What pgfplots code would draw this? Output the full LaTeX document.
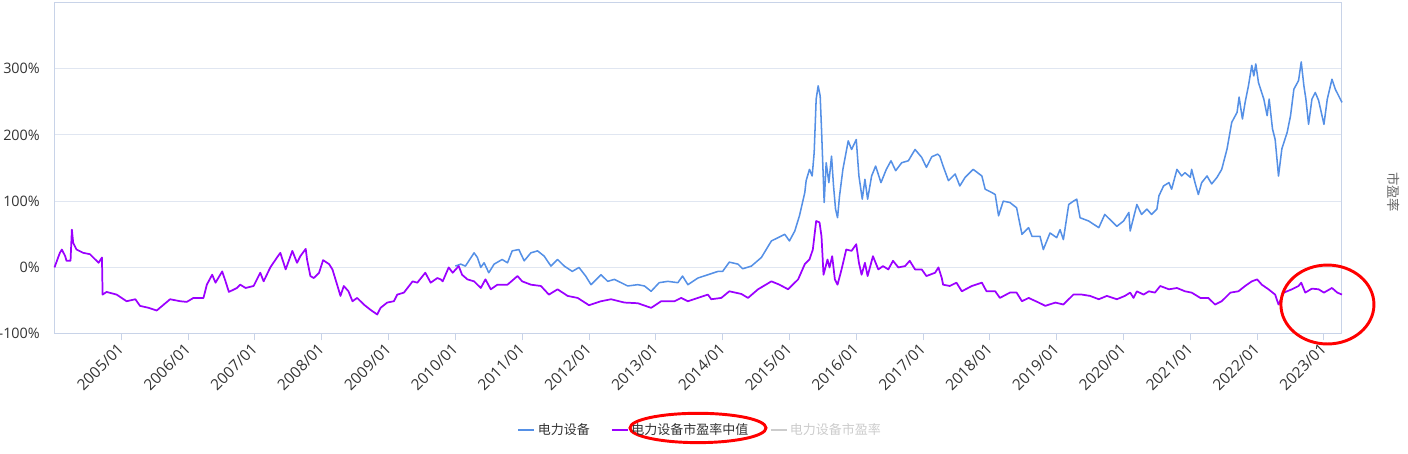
\documentclass[border=0pt]{standalone}
\usepackage{pgfplots}
\pgfplotsset{compat=1.18}
\usepackage{fontspec}
\setmainfont{Noto Sans CJK SC}
\newfontfamily\tickfont{Open Sans}
\definecolor{bluel}{HTML}{5590E6}
\definecolor{purp}{HTML}{9B00FF}
\definecolor{gridc}{HTML}{E0E6F1}
\definecolor{axc}{HTML}{C8D3E8}
\definecolor{lgray}{HTML}{CCCCCC}
\definecolor{txt}{HTML}{333333}
\begin{document}
\begin{tikzpicture}
\begin{axis}[
  scale only axis, width=965.6pt, height=248.5pt,
  xmin=2004, xmax=2023.27, ymin=-100, ymax=400,
  axis line style={draw=axc, line width=0.75pt},
  xtick={2005,2006,...,2023},
  xticklabels={2005/01,2006/01,2007/01,2008/01,2009/01,2010/01,2011/01,2012/01,2013/01,2014/01,2015/01,2016/01,2017/01,2018/01,2019/01,2020/01,2021/01,2022/01,2023/01},
  ytick={-100,0,100,200,300},
  yticklabels={-100\%,0\%,100\%,200\%,300\%},
  ymajorgrids, major grid style={draw=gridc, line width=0.75pt},
  xtick pos=bottom, ytick pos=left, tick align=outside,
  xtick style={draw=axc, line width=0.75pt}, major tick length=5pt,
  ytick style={draw=none},
  yticklabel style={font=\tickfont\fontsize{10.8}{13}\selectfont, text=txt, xshift=-2.5pt},
  xticklabel style={font=\tickfont\fontsize{11.5}{13}\selectfont, text=txt, rotate=45, anchor=east, yshift=-3pt},
  clip=false,
  legend columns=-1,
  legend style={draw=none, fill=none, at={(0.5013,-0.2906)}, anchor=center,
    font=\fontsize{9.75}{12}\selectfont, text=txt,
    /tikz/every even column/.append style={column sep=14pt},
    nodes={inner sep=1.5pt}},
  legend image code/.code={\draw[#1, line width=2.2pt] (0pt,0pt) -- (12pt,0pt);},
]
\addplot[bluel, line width=1.15pt, line join=round] coordinates {
(2010.00,2)(2010.08,5)(2010.15,2)(2010.28,22)(2010.33,15)(2010.38,0)(2010.43,7)(2010.50,-8)(2010.58,5)(2010.70,12)(2010.78,7)(2010.85,25)(2010.95,27)(2011.03,10)(2011.13,22)(2011.23,25)(2011.33,17)(2011.43,2)(2011.53,12)(2011.63,2)(2011.75,-6)(2011.85,0)(2011.95,-13)(2012.03,-26)(2012.18,-11)(2012.28,-21)(2012.38,-18)(2012.58,-28)(2012.73,-26)(2012.83,-28)(2012.93,-36)(2013.05,-23)(2013.18,-21)(2013.33,-23)(2013.40,-13)(2013.48,-26)(2013.63,-16)(2013.78,-11)(2013.93,-6)(2014.00,-6)(2014.10,8)(2014.23,5)(2014.30,-2)(2014.43,2)(2014.58,15)(2014.73,40)(2014.83,45)(2014.93,50)(2015.00,40)(2015.08,55)(2015.15,78)(2015.23,113)(2015.25,131)(2015.30,148)(2015.34,138)(2015.37,173)(2015.40,254)(2015.43,274)(2015.46,259)(2015.48,209)(2015.52,98)(2015.55,158)(2015.59,128)(2015.63,168)(2015.66,123)(2015.69,88)(2015.72,75)(2015.75,108)(2015.80,148)(2015.88,191)(2015.93,178)(2016.00,193)(2016.04,138)(2016.09,103)(2016.13,133)(2016.17,103)(2016.23,138)(2016.29,153)(2016.37,128)(2016.45,148)(2016.52,161)(2016.59,146)(2016.68,158)(2016.78,161)(2016.88,178)(2016.98,166)(2017.05,151)(2017.13,167)(2017.22,171)(2017.25,168)(2017.30,153)(2017.38,131)(2017.48,141)(2017.55,123)(2017.63,136)(2017.75,148)(2017.88,138)(2017.93,118)(2018.03,113)(2018.08,110)(2018.13,78)(2018.20,100)(2018.30,98)(2018.40,90)(2018.48,50)(2018.58,60)(2018.63,47)(2018.75,47)(2018.80,27)(2018.90,52)(2019.00,45)(2019.05,57)(2019.10,42)(2019.18,95)(2019.25,100)(2019.30,103)(2019.35,75)(2019.48,70)(2019.63,60)(2019.72,80)(2019.90,62)(2020.00,70)(2020.08,83)(2020.10,55)(2020.20,95)(2020.27,80)(2020.35,88)(2020.42,80)(2020.50,88)(2020.53,108)(2020.60,123)(2020.68,128)(2020.72,118)(2020.80,148)(2020.87,138)(2020.92,143)(2021.00,136)(2021.02,148)(2021.07,128)(2021.12,110)(2021.17,128)(2021.25,138)(2021.32,126)(2021.40,136)(2021.47,148)(2021.55,179)(2021.62,219)(2021.70,234)(2021.73,257)(2021.78,224)(2021.82,249)(2021.87,274)(2021.92,305)(2021.95,289)(2021.98,307)(2022.02,279)(2022.10,254)(2022.15,229)(2022.18,254)(2022.23,209)(2022.27,193)(2022.32,138)(2022.37,179)(2022.45,204)(2022.50,229)(2022.55,269)(2022.62,282)(2022.66,310)(2022.70,274)(2022.73,254)(2022.77,216)(2022.82,254)(2022.87,264)(2022.92,252)(2023.00,216)(2023.05,254)(2023.12,284)(2023.17,269)(2023.22,259)(2023.27,249)
};
\addlegendentry{电力设备}
\addplot[purp, line width=1.3pt, line join=round] coordinates {
(2004.00,0)(2004.08,22)(2004.11,27)(2004.16,17)(2004.18,10)(2004.24,10)(2004.26,57)(2004.28,37)(2004.33,27)(2004.43,22)(2004.53,20)(2004.61,12)(2004.66,7)(2004.71,15)(2004.72,-41)(2004.78,-37)(2004.93,-41)(2005.08,-51)(2005.21,-48)(2005.28,-58)(2005.41,-61)(2005.53,-65)(2005.73,-48)(2005.88,-51)(2005.98,-52)(2006.08,-46)(2006.23,-46)(2006.28,-26)(2006.36,-11)(2006.41,-23)(2006.51,-6)(2006.56,-21)(2006.61,-37)(2006.73,-31)(2006.78,-26)(2006.86,-31)(2006.98,-28)(2007.08,-8)(2007.13,-21)(2007.23,0)(2007.33,15)(2007.38,22)(2007.46,-3)(2007.56,25)(2007.63,7)(2007.68,17)(2007.76,28)(2007.78,12)(2007.83,-13)(2007.88,-16)(2007.96,-8)(2008.02,11)(2008.11,5)(2008.16,-3)(2008.23,-26)(2008.28,-43)(2008.33,-28)(2008.40,-36)(2008.46,-51)(2008.53,-46)(2008.63,-56)(2008.73,-64)(2008.83,-71)(2008.88,-61)(2008.98,-53)(2009.08,-51)(2009.13,-41)(2009.23,-38)(2009.36,-21)(2009.43,-23)(2009.55,-8)(2009.63,-23)(2009.73,-16)(2009.78,-18)(2009.81,-21)(2009.90,0)(2009.96,-8)(2010.05,2)(2010.10,-11)(2010.18,-18)(2010.28,-21)(2010.38,-31)(2010.45,-18)(2010.53,-33)(2010.63,-26)(2010.78,-26)(2010.93,-13)(2011.00,-21)(2011.13,-26)(2011.28,-28)(2011.40,-41)(2011.53,-33)(2011.68,-43)(2011.83,-46)(2012.00,-57)(2012.18,-51)(2012.33,-48)(2012.53,-53)(2012.73,-54)(2012.93,-61)(2013.08,-51)(2013.28,-51)(2013.38,-46)(2013.48,-51)(2013.63,-46)(2013.78,-41)(2013.83,-48)(2013.98,-46)(2014.10,-36)(2014.28,-40)(2014.38,-46)(2014.53,-33)(2014.73,-21)(2014.85,-26)(2014.98,-33)(2015.13,-18)(2015.23,5)(2015.30,12)(2015.35,27)(2015.40,70)(2015.45,68)(2015.48,47)(2015.51,-11)(2015.57,12)(2015.60,0)(2015.64,17)(2015.68,-18)(2015.72,-26)(2015.78,-3)(2015.85,27)(2015.93,25)(2016.00,35)(2016.04,7)(2016.08,-11)(2016.13,7)(2016.17,-13)(2016.25,17)(2016.33,-3)(2016.40,2)(2016.48,-3)(2016.55,10)(2016.63,0)(2016.73,2)(2016.80,10)(2016.88,-3)(2016.98,-3)(2017.05,-13)(2017.18,-8)(2017.23,0)(2017.28,-16)(2017.30,-26)(2017.40,-28)(2017.50,-23)(2017.58,-36)(2017.73,-28)(2017.88,-23)(2017.95,-36)(2018.08,-36)(2018.15,-46)(2018.30,-38)(2018.40,-38)(2018.48,-51)(2018.58,-46)(2018.73,-53)(2018.83,-58)(2018.98,-53)(2019.10,-56)(2019.25,-41)(2019.38,-41)(2019.50,-43)(2019.63,-48)(2019.75,-43)(2019.90,-48)(2020.02,-43)(2020.10,-38)(2020.15,-46)(2020.20,-36)(2020.30,-41)(2020.38,-36)(2020.47,-38)(2020.55,-28)(2020.68,-33)(2020.80,-31)(2020.92,-36)(2021.02,-38)(2021.15,-46)(2021.27,-46)(2021.37,-56)(2021.47,-51)(2021.60,-38)(2021.72,-36)(2021.82,-28)(2021.92,-21)(2022.00,-18)(2022.07,-26)(2022.17,-33)(2022.27,-41)(2022.32,-56)(2022.40,-38)(2022.52,-33)(2022.62,-28)(2022.66,-23)(2022.72,-38)(2022.82,-32)(2022.92,-33)(2023.00,-38)(2023.12,-31)(2023.20,-38)(2023.27,-41)
};
\addlegendentry{电力设备市盈率中值}
\addlegendimage{lgray, line width=1.3pt}
\addlegendentry{\textcolor{lgray}{电力设备市盈率}}
\node[rotate=-90, text=black!60, font=\fontsize{10}{12}\selectfont] at (rel axis cs:1.040,0.4276) {市盈率};
\draw[red, line width=2.2pt] (rel axis cs:0.9887,0.0881) ellipse [x radius=34.9pt, y radius=29.6pt];
\draw[red, line width=2.2pt] (rel axis cs:0.4998,-0.2845) ellipse [x radius=51pt, y radius=11pt];
\end{axis}
\pgfresetboundingbox
\path[use as bounding box] ([shift={(-40.875pt,-89.475pt)}]current axis.south west) rectangle ([shift={(1015.125pt,250.275pt)}]current axis.south west);
\end{tikzpicture}
\end{document}
